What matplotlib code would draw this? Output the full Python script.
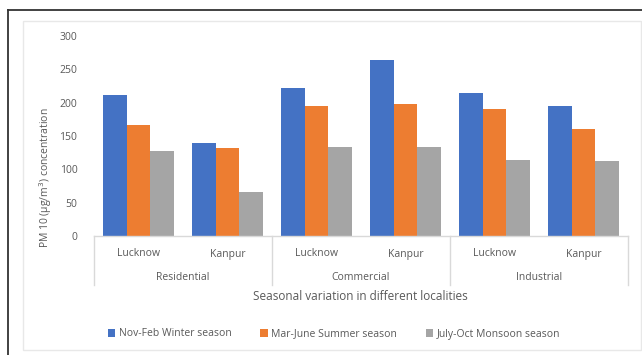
import matplotlib
matplotlib.use("Agg")
import matplotlib.pyplot as plt
from matplotlib.lines import Line2D
from matplotlib.patches import Rectangle, Patch
import numpy as np

plt.rcParams['font.family'] = ['Open Sans', 'DejaVu Sans']

# Data: PM10 concentration by locality and season
groups = ["Residential", "Commercial", "Industrial"]
cities = ["Lucknow", "Kanpur", "Lucknow", "Kanpur", "Lucknow", "Kanpur"]
series_names = ["Nov-Feb Winter season", "Mar-June Summer season", "July-Oct Monsoon season"]
winter = [212, 140, 222, 264, 214, 195]
summer = [167, 132, 195, 198, 191, 160]
monsoon = [128, 66, 134, 134, 114, 112]
yticks = [0, 50, 100, 150, 200, 250, 300]

colors = ["#4472C4", "#ED7D31", "#A5A5A5"]
text_col = "#595959"
line_col = "#D9D9D9"

W, H = 642, 355
fig = plt.figure(figsize=(W / 100, H / 100), dpi=100)

def fx(px):
    return px / W

def fy(py):
    return 1 - py / H

# outer frame (dark, top and left) and inner light chart-area box
fig.add_artist(Line2D([fx(8), 1], [fy(10), fy(10)], color="#333333", lw=1.3, transform=fig.transFigure))
fig.add_artist(Line2D([fx(8), fx(8)], [fy(10), 0], color="#333333", lw=1.3, transform=fig.transFigure))
fig.add_artist(Rectangle((fx(23), fy(350)), fx(641) - fx(23), fy(21) - fy(350),
                         transform=fig.transFigure, fill=False, edgecolor="#E8E8E8", lw=1.0))

ax_l, ax_r, ax_t, ax_b = 94, 628, 36, 236
ax = fig.add_axes([fx(ax_l), fy(ax_b), fx(ax_r) - fx(ax_l), fy(ax_t) - fy(ax_b)])

x = np.arange(len(cities))
bw = 0.265
for i, (vals, c, name) in enumerate(zip([winter, summer, monsoon], colors, series_names)):
    ax.bar(x + (i - 1) * bw, vals, width=bw, color=c, label=name)

ax.set_xlim(-0.5, len(cities) - 0.5)
ax.set_ylim(0, 300)
ax.set_yticks(yticks)
ax.tick_params(axis='y', length=0, labelsize=7.5, labelcolor=text_col, pad=12)
ax.set_xticks(x)
ax.set_xticklabels(cities)
ax.tick_params(axis='x', length=0, labelsize=7.5, labelcolor=text_col, pad=9)
for s in ["top", "right", "left"]:
    ax.spines[s].set_visible(False)
ax.spines["bottom"].set_color(line_col)
ax.spines["bottom"].set_linewidth(1.0)

# group labels and separators of the two-level category axis
trans = ax.get_xaxis_transform()
axh = ax_b - ax_t
for gi, g in enumerate(groups):
    ax.text(2 * gi + 0.5, -41 / axh, g, transform=trans, ha="center", va="center",
            fontsize=7.5, color=text_col, clip_on=False)
for b in [-0.5, 1.5, 3.5, 5.5]:
    ax.plot([b, b], [0, -49 / axh], transform=trans, color=line_col, lw=1.0, clip_on=False)

fig.text(fx(360), fy(297), "Seasonal variation in different localities", ha="center", va="center",
         fontsize=8.5, color=text_col)
fig.text(fx(46), fy(178), "PM 10 (μg/m$^3$) concentration", rotation=90, ha="center", va="center",
         fontsize=7.5, color=text_col)

handles = [Patch(facecolor=c, edgecolor="none") for c in colors]
fig.legend(handles, series_names, loc="center", bbox_to_anchor=(fx(334), fy(334)), ncol=3,
           frameon=False, fontsize=7.5, labelcolor=text_col, handlelength=0.7, handleheight=0.7,
           handletextpad=0.3, columnspacing=2.8)

fig.savefig("out.png", dpi=100)
